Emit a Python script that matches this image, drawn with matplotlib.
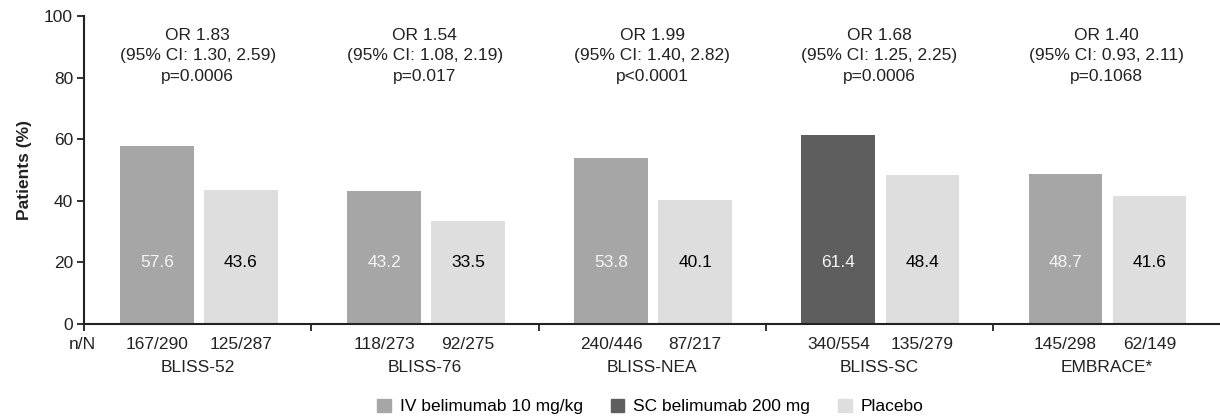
import matplotlib.pyplot as plt
import numpy as np

plt.rcParams['font.family'] = ['Liberation Sans', 'DejaVu Sans']

studies = ['BLISS-52', 'BLISS-76', 'BLISS-NEA', 'BLISS-SC', 'EMBRACE*']
active_pct = [57.6, 43.2, 53.8, 61.4, 48.7]
placebo_pct = [43.6, 33.5, 40.1, 48.4, 41.6]
active_nN = ['167/290', '118/273', '240/446', '340/554', '145/298']
placebo_nN = ['125/287', '92/275', '87/217', '135/279', '62/149']
odds_ratio = ['1.83', '1.54', '1.99', '1.68', '1.40']
ci = ['1.30, 2.59', '1.08, 2.19', '1.40, 2.82', '1.25, 2.25', '0.93, 2.11']
p_values = ['p=0.0006', 'p=0.017', 'p<0.0001', 'p=0.0006', 'p=0.1068']
sc_study = 'BLISS-SC'

iv_color = '#a6a6a6'
sc_color = '#5e5e5e'
pbo_color = '#dedede'
axis_color = '#222222'
fs = 12.5

fig = plt.figure(figsize=(12.2, 4.19), dpi=100)
ax = fig.add_axes([0.069, 0.227, 0.931, 0.735])

x = np.arange(len(studies))
bw = 0.325
x_act = x + 0.32
x_pbo = x + 0.69
act_colors = [sc_color if s == sc_study else iv_color for s in studies]

ax.bar(x_act, active_pct, width=bw, color=act_colors)
ax.bar(x_pbo, placebo_pct, width=bw, color=pbo_color)

trans = ax.get_xaxis_transform()
for i in range(len(studies)):
    ax.text(x_act[i], 20, f'{active_pct[i]:.1f}', ha='center', va='center',
            fontsize=fs, color='#f4f4f4')
    ax.text(x_pbo[i], 20, f'{placebo_pct[i]:.1f}', ha='center', va='center',
            fontsize=fs, color='black')
    cx = x[i] + 0.5
    ax.text(cx, 93.8, f'OR {odds_ratio[i]}', ha='center', va='center', fontsize=fs, color='#222222')
    ax.text(cx, 87.0, f'(95% CI: {ci[i]})', ha='center', va='center', fontsize=fs, color='#222222')
    ax.text(cx, 80.2, p_values[i], ha='center', va='center', fontsize=fs, color='#222222')
    ax.text(x_act[i], -0.068, active_nN[i], ha='center', va='center', fontsize=fs,
            color='#222222', transform=trans)
    ax.text(x_pbo[i], -0.068, placebo_nN[i], ha='center', va='center', fontsize=fs,
            color='#222222', transform=trans)
    ax.text(cx, -0.143, studies[i], ha='center', va='center', fontsize=fs,
            color='#222222', transform=trans)

ax.text(-0.01, -0.068, 'n/N', ha='center', va='center', fontsize=fs, color='#222222',
        transform=trans)

ax.set_xlim(0, 5)
ax.set_ylim(0, 100)
ax.set_yticks([0, 20, 40, 60, 80, 100])
ax.set_xticks([0, 1, 2, 3, 4])
ax.set_xticklabels([])
ax.tick_params(axis='both', direction='out', length=5, width=1.3, color=axis_color,
               labelsize=fs, labelcolor='#222222')
ax.tick_params(axis='y', pad=3)
for side in ['top', 'right']:
    ax.spines[side].set_visible(False)
for side in ['left', 'bottom']:
    ax.spines[side].set_linewidth(1.5)
    ax.spines[side].set_color(axis_color)
ax.set_ylabel('Patients (%)', fontsize=fs, fontweight='bold', color='#222222', labelpad=9)

handles = [plt.Rectangle((0, 0), 1, 1, color=c) for c in (iv_color, sc_color, pbo_color)]
fig.legend(handles, ['IV belimumab 10 mg/kg', 'SC belimumab 200 mg', 'Placebo'],
           loc='center', bbox_to_anchor=(0.533, 0.03), ncol=3, frameon=False,
           fontsize=fs, handlelength=0.8, handleheight=0.8, handletextpad=0.5,
           columnspacing=1.6)

fig.savefig('out.png', dpi=100)
